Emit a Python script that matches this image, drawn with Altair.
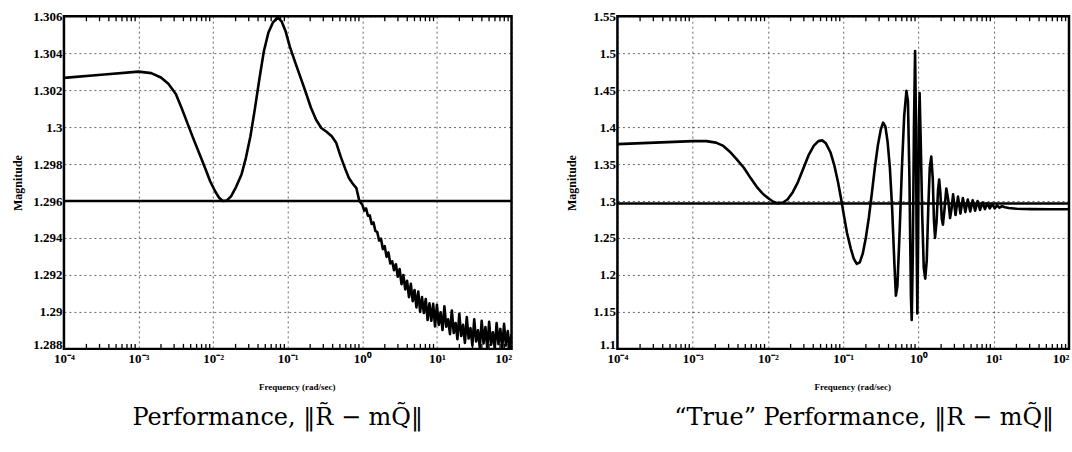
import altair as alt
import pandas as pd

# ---------------- data ----------------
LEFT_LOGF = [
    -4.0, -3.5, -3.0, -2.83, -2.7, -2.6, -2.5, -2.42, -2.34, -2.26, -2.18, -2.1,
    -2.04, -1.97, -1.92, -1.87, -1.82, -1.76, -1.69, -1.62, -1.56, -1.5, -1.44,
    -1.38, -1.32, -1.26, -1.2, -1.15, -1.12, -1.08, -1.03, -0.97, -0.9, -0.83,
    -0.76, -0.69, -0.62, -0.55, -0.48, -0.41, -0.35, -0.29, -0.23, -0.18, -0.13,
    -0.08, -0.04,
    0.0, 0.025, 0.05, 0.075, 0.1, 0.125, 0.15, 0.175, 0.2, 0.225, 0.25, 0.275,
    0.3, 0.325, 0.35, 0.375, 0.4, 0.425, 0.45, 0.475, 0.5, 0.525, 0.55, 0.575,
    0.6, 0.625, 0.65, 0.675, 0.7, 0.725, 0.75, 0.775, 0.8, 0.825, 0.85, 0.875,
    0.9, 0.925, 0.95, 0.975, 1.0, 1.025, 1.05, 1.075, 1.1, 1.125, 1.15, 1.175,
    1.2, 1.225, 1.25, 1.275, 1.3, 1.325, 1.35, 1.375, 1.4, 1.425, 1.45, 1.475,
    1.5, 1.525, 1.55, 1.575, 1.6, 1.625, 1.65, 1.675, 1.7, 1.725, 1.75, 1.775,
    1.8, 1.825, 1.85, 1.875, 1.9, 1.925, 1.95, 1.975, 2.0,
]
LEFT_MAG = [
    1.30266, 1.30283, 1.30300, 1.30292, 1.30268, 1.30235, 1.30179, 1.30100,
    1.30016, 1.29932, 1.29852, 1.29770, 1.29707, 1.29650, 1.29618, 1.29600,
    1.29602, 1.29625, 1.29678, 1.29743, 1.29835, 1.29950, 1.30100, 1.30260,
    1.30410, 1.30510, 1.30565, 1.30587, 1.30588, 1.30570, 1.30520, 1.30433,
    1.30350, 1.30270, 1.30190, 1.30106, 1.30040, 1.29995, 1.29975, 1.29950,
    1.29915, 1.29840, 1.29775, 1.29725, 1.29695, 1.29670, 1.29600,
    1.29580, 1.29548, 1.29560, 1.29520, 1.29522, 1.29476, 1.29484, 1.29438,
    1.29432, 1.29386, 1.29396, 1.29340, 1.29356, 1.29298, 1.29322, 1.29262,
    1.29274, 1.29226, 1.29258, 1.29190, 1.29232, 1.29150, 1.29200, 1.29122,
    1.29168, 1.29080, 1.29152, 1.29058, 1.29118, 1.29024, 1.29110, 1.29000,
    1.29080, 1.28994, 1.29070, 1.28956, 1.29046, 1.28952, 1.29044, 1.28922,
    1.29038, 1.28930, 1.28998, 1.28902, 1.29030, 1.28920, 1.28960, 1.28880,
    1.29008, 1.28886, 1.28940, 1.28852, 1.28990, 1.28870, 1.28930, 1.28832,
    1.28972, 1.28856, 1.28912, 1.28818, 1.28960, 1.28840, 1.28900, 1.28806,
    1.28952, 1.28830, 1.28918, 1.28802, 1.28946, 1.28822, 1.28890, 1.28800,
    1.28940, 1.28826, 1.28908, 1.28802, 1.28936, 1.28818, 1.28896, 1.28800,
    1.28880,
]

RIGHT_LOGF = [
    -4.0, -3.5, -3.0, -2.82, -2.69, -2.6, -2.51, -2.42, -2.32, -2.23, -2.14,
    -2.07, -2.0, -1.93, -1.87, -1.8, -1.74, -1.67, -1.6, -1.53, -1.46, -1.39,
    -1.33, -1.28, -1.23, -1.17, -1.12, -1.07, -1.03, -0.99, -0.95, -0.9, -0.86,
    -0.82, -0.78, -0.74, -0.7, -0.66, -0.62, -0.58, -0.54, -0.5, -0.47, -0.44,
    -0.41, -0.38, -0.35, -0.32, -0.3, -0.28, -0.25, -0.22, -0.19, -0.16, -0.14,
    -0.12, -0.1, -0.09, -0.075, -0.06, -0.045, -0.035, -0.025, -0.015, -0.005,
    0.005, 0.015, 0.03, 0.05, 0.07, 0.09, 0.11, 0.13, 0.15, 0.17, 0.19, 0.205,
    0.22, 0.24, 0.26, 0.275, 0.29, 0.31, 0.325, 0.345, 0.37, 0.395, 0.42, 0.44,
    0.46, 0.4925, 0.525, 0.5575, 0.59, 0.6225, 0.655, 0.6875, 0.72, 0.7525,
    0.785, 0.8175, 0.85, 0.8825, 0.915, 0.9475, 0.98, 1.0125, 1.045, 1.0775,
    1.11, 1.15, 1.2, 1.3, 1.5, 1.75, 2.0,
]
RIGHT_MAG = [
    1.377, 1.379, 1.381, 1.381, 1.379, 1.375, 1.367, 1.357, 1.345, 1.331, 1.318,
    1.310, 1.304, 1.299, 1.297, 1.298, 1.302, 1.312, 1.326, 1.344, 1.362, 1.375,
    1.381, 1.382, 1.378, 1.366, 1.349, 1.326, 1.304, 1.280, 1.257, 1.236, 1.222,
    1.215, 1.217, 1.229, 1.250, 1.277, 1.310, 1.345, 1.375, 1.397, 1.406, 1.401,
    1.380, 1.345, 1.290, 1.215, 1.172, 1.185, 1.260, 1.345, 1.415, 1.449, 1.435,
    1.330, 1.170, 1.139, 1.230, 1.400, 1.503, 1.420, 1.250, 1.148, 1.250,
    1.400, 1.446, 1.380, 1.280, 1.210, 1.195, 1.220, 1.290, 1.345, 1.360, 1.330,
    1.275, 1.250, 1.272, 1.315, 1.329, 1.312, 1.276, 1.268, 1.288, 1.317, 1.302,
    1.277, 1.290, 1.309, 1.281, 1.306, 1.283, 1.304, 1.285, 1.302, 1.286, 1.301,
    1.287, 1.300, 1.288, 1.298, 1.289, 1.297, 1.290, 1.296, 1.290, 1.294, 1.291,
    1.293, 1.2915, 1.2905, 1.2895, 1.2890, 1.2888, 1.2888,
]

LEFT_LEVEL = 1.296
RIGHT_LEVEL = 1.2965

DECADES = [-4, -3, -2, -1, 0, 1, 2]
MINOR_MULT = [2, 3, 4, 5, 6, 7, 8, 9]
X_SUPERSCRIPTS = ["⁻⁴", "⁻³", "⁻²", "⁻¹", "⁰", "¹", "²"]
LEFT_YTICKS = [1.288, 1.290, 1.292, 1.294, 1.296, 1.298, 1.300, 1.302, 1.304, 1.306]
RIGHT_YTICKS = [1.10, 1.15, 1.20, 1.25, 1.30, 1.35, 1.40, 1.45, 1.50, 1.55]

LEFT_CAPTION = "Performance, \u2016R\u0303 \u2212 mQ\u0303\u2016"
RIGHT_CAPTION = "\u201cTrue\u201d Performance, \u2016R \u2212 mQ\u0303\u2016"
X_TITLE = "Frequency (rad/sec)"
Y_TITLE = "Magnitude"

SERIF = "Liberation Serif"


def panel(logf, mag, level, yticks, ydomain, yfmt, width, height, caption, dx):
    df = pd.DataFrame({"freq": [10.0 ** v for v in logf], "mag": mag})
    xscale = alt.Scale(type="log", domain=[1e-4, 1e2], nice=False)
    yscale = alt.Scale(domain=ydomain, nice=False, zero=False)
    sup = "[" + ",".join("'%s'" % s for s in X_SUPERSCRIPTS) + "]"
    xaxis = alt.Axis(
        values=[10.0 ** d for d in DECADES],
        labelExpr="'10' + " + sup + "[round(log(datum.value)/LN10)+4]",
        labelAlign=alt.condition("datum.value >= 100", alt.value("right"), alt.value("center")),
        labelPadding=4,
        labelFontSize=13,
        title=X_TITLE,
        titleFontSize=9,
        titlePadding=17,
        titleX=width / 2 + 9,
        titleAlign="center",
    )
    yaxis = alt.Axis(
        values=yticks,
        format=yfmt,
        labelPadding=2,
        labelFontSize=13,
        labelBaseline=alt.condition(
            "datum.value <= %s" % ydomain[0], alt.value("alphabetic"), alt.value("middle")
        ),
        minExtent=32,
        maxExtent=32,
        title=Y_TITLE,
        titleFontSize=12,
        titlePadding=7,
    )
    x_enc = alt.X("freq:Q", scale=xscale, axis=xaxis, title=X_TITLE)
    y_enc = alt.Y("mag:Q", scale=yscale, axis=yaxis, title=Y_TITLE)
    line = alt.Chart(df).mark_line(
        color="black", strokeWidth=2.6, clip=True, strokeJoin="round"
    ).encode(x=x_enc, y=y_enc)
    ref = alt.Chart(pd.DataFrame({"mag": [level]})).mark_rule(
        color="black", strokeWidth=2.5
    ).encode(y=y_enc)
    minor = pd.DataFrame({"freq": [m * 10.0 ** d for d in DECADES[:-1] for m in MINOR_MULT]})
    top = alt.Chart(minor).mark_rule(color="black", strokeWidth=1.3).encode(
        x=x_enc,
        y=alt.value(0),
        y2=alt.value(5),
    )
    bot = alt.Chart(minor).mark_rule(color="black", strokeWidth=1.3).encode(
        x=x_enc,
        y=alt.value(height - 5),
        y2=alt.value(height),
    )
    return alt.layer(line, ref, top, bot).properties(
        width=width,
        height=height,
        title=alt.TitleParams(
            text=caption,
            orient="bottom",
            anchor="middle",
            frame="group",
            font="DejaVu Serif",
            fontSize=24,
            fontWeight="normal",
            color="black",
            offset=14,
            dx=dx,
        ),
    )


left = panel(LEFT_LOGF, LEFT_MAG, LEFT_LEVEL, LEFT_YTICKS, [1.288, 1.306], ".4~f",
             448, 333, LEFT_CAPTION, -10)
right = panel(RIGHT_LOGF, RIGHT_MAG, RIGHT_LEVEL, RIGHT_YTICKS, [1.1, 1.55], ".2~f",
              452, 333, RIGHT_CAPTION, 21)

chart = alt.hconcat(left, right, spacing=106, bounds="flush").properties(
    padding={"left": 10, "top": 8, "right": 0, "bottom": 0},
    background="white",
).configure_view(
    stroke="black", strokeWidth=2.5
).configure_axis(
    grid=True,
    gridColor="black",
    gridDash=[2, 3],
    gridWidth=0.8,
    gridOpacity=0.75,
    domain=False,
    ticks=False,
    labelFont=SERIF,
    labelFontWeight="bold",
    labelColor="black",
    titleFont=SERIF,
    titleFontWeight="bold",
    titleColor="black",
)

chart.save("out.html", embed_options={"renderer": "svg", "actions": False})
